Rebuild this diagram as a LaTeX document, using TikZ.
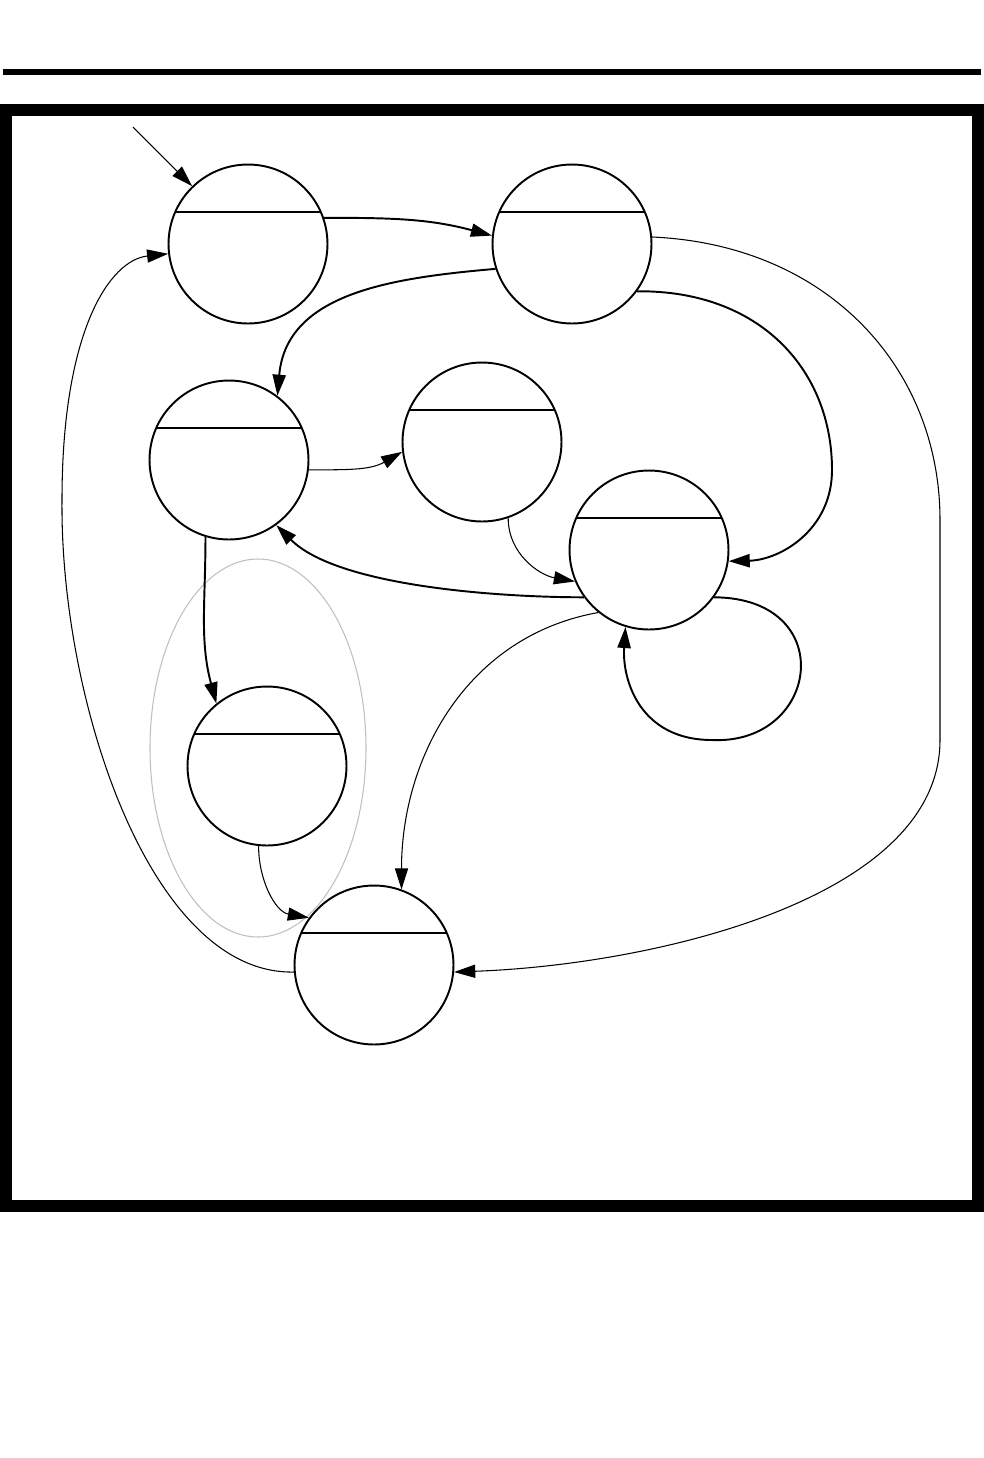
\documentclass[tikz,border=0pt]{standalone}
\usetikzlibrary{arrows.meta}
\begin{document}
\begin{tikzpicture}[x=0.02cm,y=0.02cm,
  state/.style={circle,draw,line width=1.1pt,minimum size=3.18cm,inner sep=0pt},
  arr/.style={-{Triangle[length=12pt,width=7.5pt]}},
  lightedge/.style={arr,line width=0.6pt},
  heavyedge/.style={arr,line width=1.1pt}]
  \useasboundingbox (0,0) rectangle (984,-1458);
  \draw[line width=0.12cm] (3,-72) -- (981,-72);
  \draw[line width=0.24cm] (6,-110) rectangle (978,-1206);
  \draw[black!25,line width=0.6pt] (258,-748) ellipse [x radius=108, y radius=189];
  \foreach \n/\px/\py in {A/248/244, B/572/244, C/229/460, D/482/442, E/649/550, F/267/766, G/374/965}{
    \node[state] (\n) at (\px,-\py) {};
    \draw[line width=1.1pt] ([shift={(-73,32)}]\n.center) -- ([shift={(73,32)}]\n.center);
  }
  \coordinate (init) at (133,-127);
  \draw[lightedge] (init) -- (A.134);
  \draw[heavyedge] (A.19) to[out=0,in=165] (B.174);
  \draw[heavyedge] (B.198) to[out=185,in=85,looseness=1.05] (C.53);
  \draw[heavyedge] (B.-36) .. controls (760,-290) and (832,-370) .. (832,-470)
    .. controls (832,-530) and (780,-560) .. (E.-8);
  \draw[lightedge] (B.5) .. controls (830,-245) and (940,-370) .. (940,-520) -- (940,-740)
    .. controls (940,-900) and (650,-965) .. (G.-5);
  \draw[lightedge] (C.-7) to[out=0,in=210] (D.187);
  \draw[lightedge] (D.-71) to[out=-90,in=170] (E.203);
  \draw[heavyedge] (E.216) to[out=180,in=-45,looseness=0.7] (C.-54);
  \draw[heavyedge] (E.-36) .. controls (840,-598) and (820,-745) .. (712,-740)
    .. controls (640,-740) and (622,-680) .. (E.-107);
  \draw[lightedge] (E.231) to[out=190,in=90] (G.70);
  \draw[heavyedge] (C.253) to[out=-90,in=105] (F.129);
  \draw[lightedge] (F.264) to[out=-90,in=170] (G.144);
  \draw[lightedge] (G.185) .. controls (150,-975) and (60,-700) .. (62,-500)
    .. controls (62,-330) and (110,-260) .. (A.187);
\end{tikzpicture}
\end{document}
